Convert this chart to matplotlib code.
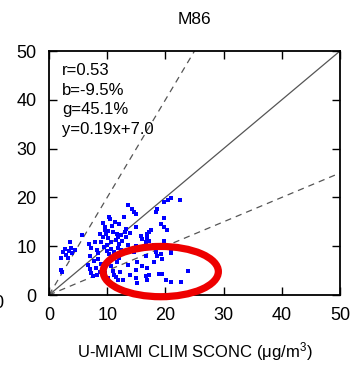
import matplotlib
matplotlib.use("Agg")
import matplotlib.pyplot as plt
from matplotlib.patches import Ellipse

plt.rcParams['font.family'] = ['Liberation Sans', 'DejaVu Sans']

# observado (U-MIAMI) vs modelo
obs_x = [2.0, 2.1, 2.4, 2.8, 3.0, 3.2, 3.5, 3.6, 3.8, 4.0, 5.7, 4.5, 2.2,
         6.8, 7.2, 7.0, 7.9, 8.2, 8.5, 9.0, 9.3, 9.6, 9.8, 10.1, 10.1, 10.3, 10.4, 10.7, 11.0,
         11.4, 11.6, 12.1, 12.4, 13.0, 12.9, 13.6,
         9.5, 9.9, 10.3, 10.6, 11.2, 11.8, 12.3, 12.0, 11.5, 10.0, 9.2, 8.8, 9.7, 10.8, 11.9,
         12.6, 13.2, 13.5,
         6.7, 7.0, 7.3, 7.6, 8.0, 8.3, 8.7, 7.8, 8.4, 9.0,
         10.7, 11.0, 11.2, 11.5, 11.8, 12.2, 12.1, 11.6, 10.3, 9.4, 9.6, 10.1,
         14.3, 14.6, 14.9, 14.9, 13.3, 13.9, 15.8, 16.0, 16.9, 16.6, 17.2, 16.9, 17.2, 17.5,
         18.6, 18.4, 19.2, 19.8, 20.3, 19.8, 19.8, 20.5, 20.9, 22.5, 19.8, 18.0, 15.0, 14.2,
         16.0, 13.6,
         13.5, 14.0, 14.6, 15.2, 14.9, 16.0, 16.6, 16.9, 18.0, 18.6, 19.2, 19.5, 20.9, 16.6,
         17.2, 16.9, 18.9, 19.5, 20.1, 20.9, 22.6, 23.8, 15.1, 12.7, 14.9, 18.3, 21.0]
mod_y = [5.1, 7.6, 8.8, 9.4, 8.2, 7.5, 9.0, 10.9, 9.6, 8.6, 12.2, 9.3, 4.8,
         10.4, 9.6, 8.0, 10.9, 9.2, 8.6, 10.9, 14.7, 13.3, 12.6, 13.1, 11.6, 16.0, 15.6, 10.9, 13.0,
         15.0, 12.4, 14.5, 12.3, 13.0, 16.0, 18.4,
         9.8, 9.0, 8.5, 9.5, 8.9, 9.7, 9.2, 10.4, 11.3, 10.2, 11.8, 12.5, 14.0, 14.2, 11.8,
         11.0, 11.8, 10.3,
         6.1, 5.3, 4.5, 3.8, 5.6, 4.0, 4.8, 7.0, 7.4, 6.4,
         6.0, 5.0, 4.2, 3.6, 3.0, 4.8, 7.6, 6.8, 7.2, 5.8, 4.5, 3.4,
         17.6, 17.1, 16.7, 14.0, 13.6, 12.8, 12.0, 11.5, 11.6, 10.9, 11.1, 12.4, 13.0, 13.3,
         17.6, 17.1, 14.5, 14.0, 13.3, 15.8, 19.1, 19.5, 19.8, 19.5, 11.1, 10.2, 10.0, 9.4,
         9.6, 9.0,
         6.1, 4.1, 8.9, 6.8, 5.1, 6.0, 8.0, 5.6, 6.8, 7.9, 8.4, 7.4, 8.6, 3.8,
         4.1, 3.1, 4.4, 4.4, 3.1, 2.6, 2.6, 4.9, 2.4, 3.1, 3.4, 8.9, 9.0]

ref_x = [0, 50]
stats_txt = "r=0.53\nb=-9.5%\ng=45.1%\ny=0.19x+7.0"

fig = plt.figure(figsize=(3.51, 3.66), dpi=100)
ax = fig.add_axes([49/351, 1 - 295/366, 291/351, 244/366])

ax.plot(ref_x, ref_x, color='#555555', lw=0.9, zorder=1)
ax.plot(ref_x, [2 * v for v in ref_x], color='#555555', lw=0.9, ls=(0, (5, 4)), zorder=1)
ax.plot(ref_x, [0.5 * v for v in ref_x], color='#555555', lw=0.9, ls=(0, (5, 4)), zorder=1)
ax.plot(obs_x, mod_y, 's', color='#0000ff', ms=3.4, mew=0, zorder=2)

ax.add_patch(Ellipse((19.2, 4.8), 19.8, 10.3, fill=False, edgecolor='#ee0000',
                     lw=5.2, clip_on=False, zorder=5))

ax.text(2.2, 47.6, stats_txt, fontsize=12, va='top', ha='left', linespacing=1.4)

ax.set_xlim(0, 50)
ax.set_ylim(0, 50)
ax.set_xticks(range(0, 51, 10))
ax.set_yticks(range(0, 51, 10))
ax.tick_params(direction='in', length=6, width=1, top=True, right=True, labelsize=13, pad=9)
for s in ax.spines.values():
    s.set_linewidth(1.3)

ax.set_xlabel(r'U-MIAMI CLIM SCONC ($\mathregular{\mu}$g/m$\mathregular{^3}$)', fontsize=12, labelpad=11)
fig.text(194/351, 1 - 19/366, 'M86', fontsize=12.5, ha='center', va='center')
fig.text(3/351, 1 - 303/366, '0', fontsize=13, ha='right', va='center')

fig.savefig('out.png', dpi=100)
